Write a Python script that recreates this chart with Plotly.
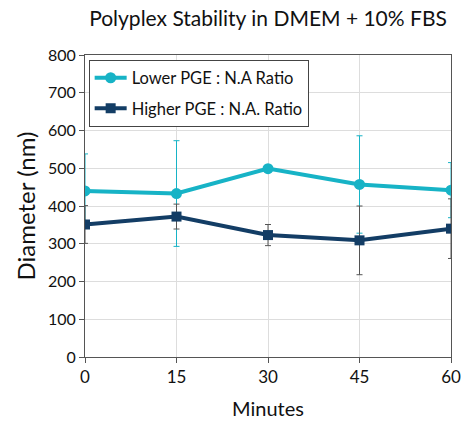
import plotly.graph_objects as go

minutes = [0, 15, 30, 45, 60]
lower_vals = [440, 433, 499, 457, 442]
lower_err = [98, 140, 5, 129, 73]
higher_vals = [351, 372, 323, 309, 340]
higher_err = [50, 33, 28, 91, 79]

cyan = "#17b3c6"
navy = "#133d65"
font = "Lato"

fig = go.Figure()
fig.add_trace(go.Scatter(
    x=minutes, y=lower_vals, name="Lower PGE : N.A Ratio", legendgroup="a",
    mode="lines+markers",
    line=dict(color=cyan, width=4),
    marker=dict(symbol="circle", size=11, color=cyan),
    error_y=dict(type="data", array=lower_err, visible=True, color=cyan, thickness=1, width=3),
))
fig.add_trace(go.Scatter(
    x=minutes, y=higher_vals, name="Higher PGE : N.A. Ratio", legendgroup="b",
    mode="lines+markers",
    line=dict(color=navy, width=4),
    marker=dict(symbol="square", size=10, color=navy),
    error_y=dict(type="data", array=higher_err, visible=True, color="#555555", thickness=1, width=3),
))

fig.update_layout(
    width=463, height=422,
    margin=dict(l=85, r=12, t=55, b=65),
    paper_bgcolor="white", plot_bgcolor="white",
    font=dict(family=font, color="#111111", size=16),
    title=dict(text="Polyplex Stability in DMEM + 10% FBS", x=0.5, xref="paper", xanchor="center",
               y=0.955, yanchor="middle", font=dict(size=21, family=font, color="#111111")),
    showlegend=True,
    legend=dict(x=0.01, y=0.985, xanchor="left", yanchor="top",
                bordercolor="#444444", borderwidth=1, bgcolor="white",
                font=dict(size=16.5, family=font), itemwidth=32, tracegroupgap=6),
)
fig.update_xaxes(
    range=[0, 60], tickvals=minutes, ticks="outside", ticklen=5, tickcolor="#555555",
    showline=True, linecolor="#555555", linewidth=1, mirror=True,
    showgrid=True, gridcolor="#dddddd", gridwidth=1, zeroline=False, automargin=False,
    title=dict(text="Minutes", font=dict(size=20, family=font), standoff=15),
    tickfont=dict(size=17, family=font),
)
fig.update_yaxes(
    range=[0, 800], dtick=100, ticks="outside", ticklen=5, tickcolor="#555555",
    showline=True, linecolor="#555555", linewidth=1, mirror=True,
    showgrid=True, gridcolor="#dddddd", gridwidth=1, zeroline=False, automargin=False,
    title=dict(text="Diameter (nm)", font=dict(size=24, family=font), standoff=5),
    tickfont=dict(size=16, family=font),
)

fig.write_html("out.html")
